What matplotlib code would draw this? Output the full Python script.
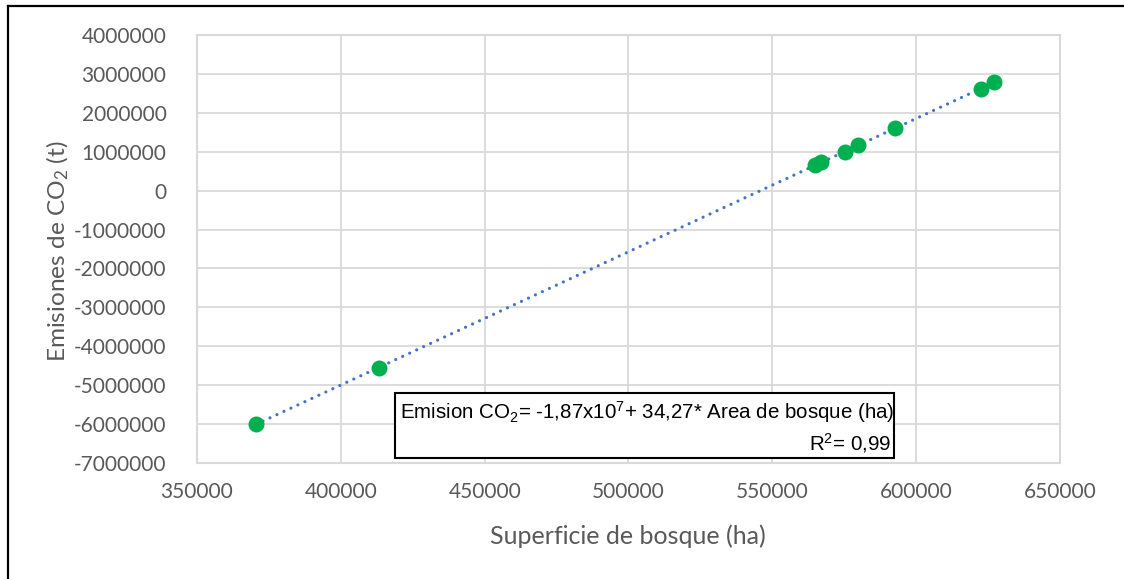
import numpy as np
from matplotlib import pyplot as plt
from matplotlib.lines import Line2D
from matplotlib.patches import Rectangle

W, H = 1124, 579

# forest area (ha) vs CO2 emissions (t)
area_ha = [370500, 413100, 564900, 567000, 575300, 579900, 592600, 622500, 627000]
emissions_t = [-6000000, -4560000, 660000, 740000, 1000000, 1170000, 1600000, 2610000, 2780000]

x_ticks = [350000, 400000, 450000, 500000, 550000, 600000, 650000]
y_ticks = list(range(-7000000, 4000001, 1000000))

eq_text = "Emision CO$_2$= -1,87x10$^7$+ 34,27* Area de bosque (ha)"
r2_text = "R$^2$= 0,99"

plt.rcParams["mathtext.default"] = "regular"
tick_font = "Lato"
grey = "#595959"
grid_grey = "#d9d9d9"

fig = plt.figure(figsize=(W / 100, H / 100), dpi=100)
ax = fig.add_axes([197 / W, 1 - 463 / H, (1060 - 197) / W, (463 - 35) / H])

# linear trend line over the data range
slope, intercept = np.polyfit(area_ha, emissions_t, 1)
xs = np.array([min(area_ha), max(area_ha)])
ax.plot(xs, slope * xs + intercept, color="#4472C4", lw=2.3,
        linestyle=(0, (0.01, 2.4)), dash_capstyle="round", zorder=2)

ax.plot(area_ha, emissions_t, "o", color="#00B050", markersize=11.5,
        markeredgewidth=0, zorder=3)

ax.set_xlim(x_ticks[0], x_ticks[-1])
ax.set_ylim(y_ticks[0], y_ticks[-1])
ax.set_xticks(x_ticks)
ax.set_yticks(y_ticks)
ax.set_xticklabels([str(v) for v in x_ticks])
ax.set_yticklabels([str(v) for v in y_ticks])
ax.tick_params(length=0, labelsize=15, labelcolor=grey)
ax.tick_params(axis="y", pad=22)
ax.tick_params(axis="x", pad=14)
for lab in ax.get_xticklabels() + ax.get_yticklabels():
    lab.set_fontfamily(tick_font)

ax.grid(True, color=grid_grey, lw=1.3)
ax.set_axisbelow(True)
for sp in ax.spines.values():
    sp.set_color(grid_grey)
    sp.set_linewidth(1.5)

fig.text(628 / W, 1 - 536 / H, "Superficie de bosque (ha)", ha="center", va="center",
         fontsize=18, color=grey, family=tick_font)
fig.text(58 / W, 1 - 251 / H, "Emisiones de CO$_2$ (t)", ha="center", va="center",
         rotation=90, fontsize=17.6, color=grey, family=tick_font)

# equation box
fig.patches.append(Rectangle((394.5 / W, 1 - 458 / H), (894 - 394.5) / W, (458 - 392.5) / H,
                             transform=fig.transFigure, fill=True, facecolor="white",
                             edgecolor="black", lw=1.5, zorder=5))
fig.text(400 / W, 1 - 419 / H, eq_text, ha="left", va="baseline", fontsize=14.8,
         family="Liberation Sans", color="black", zorder=6)
fig.text(891 / W, 1 - 450 / H, r2_text, ha="right", va="baseline", fontsize=14.8,
         family="Liberation Sans", color="black", zorder=6)

# outer frame (left and top edges visible)
fig.add_artist(Line2D([7.5 / W, 7.5 / W], [0, 1 - 6 / H], color="black", lw=1.6,
                      transform=fig.transFigure))
fig.add_artist(Line2D([7.5 / W, 1], [1 - 6 / H, 1 - 6 / H], color="black", lw=1.6,
                      transform=fig.transFigure))

fig.savefig("out.png", dpi=100)
